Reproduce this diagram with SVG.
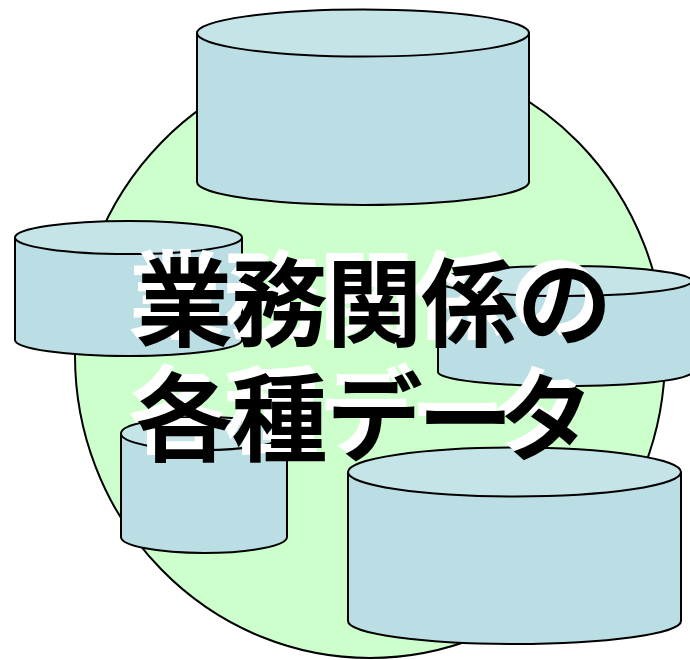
<svg xmlns="http://www.w3.org/2000/svg" width="690" height="660" viewBox="0 0 690 660">
<style>
.b{fill:#bbdde4;stroke:#000;stroke-width:2}
.t{fill:#c5e4e8;stroke:#000;stroke-width:2}
text{font-family:"Noto Sans CJK JP",sans-serif;font-size:95px;font-weight:500;stroke-width:1.8}
.s{fill:#fff;stroke:#fff}
.f{fill:#000;stroke:#000}
</style>
<g id="circle"><ellipse cx="370" cy="356" rx="295" ry="302" fill="#ccffcc" stroke="#000" stroke-width="2"/></g>
<g id="db1"><path class="b" d="M197 33V182A166 23 0 0 0 529 182V33"/><ellipse class="t" cx="363" cy="33" rx="166" ry="23.500"/></g>
<g id="db2"><path class="b" d="M15 237.500V340A113.500 16 0 0 0 242 340V237.500"/><ellipse class="t" cx="128.500" cy="237.500" rx="113.500" ry="16.500"/></g>
<g id="db3"><path class="b" d="M438 281V372A127 14 0 0 0 692 372V281"/><ellipse class="t" cx="565" cy="281" rx="127" ry="15"/></g>
<g id="db4"><path class="b" d="M121 433.500V537A83 16 0 0 0 287 537V433.500"/><ellipse class="t" cx="204" cy="433.500" rx="83" ry="16.500"/></g>
<g id="db5"><path class="b" d="M348 472V621A166.500 23 0 0 0 681 621V472"/><ellipse class="t" cx="514.500" cy="472" rx="166.500" ry="24.500"/></g>
<g id="title">
<text class="s" x="129" y="331">業務関係の</text>
<text class="s" x="129 224 319 410 491" y="446">各種データ</text>
<text class="f" x="137" y="339">業務関係の</text>
<text class="f" x="137 232 327 418 499" y="454">各種データ</text>
</g>
</svg>
